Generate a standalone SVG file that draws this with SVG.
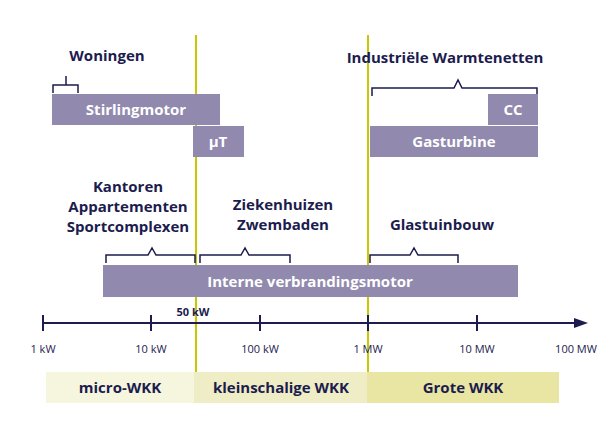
<svg xmlns="http://www.w3.org/2000/svg" width="616" height="427" viewBox="0 0 616 427">
<style>
.bar{fill:#9189ae}
.bt{font-family:"Open Sans","DejaVu Sans",sans-serif;font-weight:bold;font-size:15px;fill:#fff;text-anchor:middle}
.lt{font-family:"Open Sans","DejaVu Sans",sans-serif;font-weight:bold;font-size:15px;fill:#1c1c4e;text-anchor:middle}
.ax{font-family:"Open Sans","DejaVu Sans",sans-serif;font-size:11px;fill:#1c1c4e;text-anchor:middle}
.br{fill:none;stroke:#1c1c4e;stroke-width:1.5}
.yl{stroke:#c8c800;stroke-width:2}
</style>
<rect x="46" y="372" width="151" height="31" fill="#f6f5dd"/>
<rect x="194" y="372" width="174" height="31" fill="#efedc5"/>
<rect x="367" y="372" width="192" height="31" fill="#e8e6a2"/>
<text class="lt" x="120" y="393">micro-WKK</text>
<text class="lt" x="281" y="393">kleinschalige WKK</text>
<text class="lt" x="463" y="393">Grote WKK</text>
<g id="connectors">
<line class="yl" x1="196" y1="35" x2="196" y2="372"/>
<line class="yl" x1="368" y1="35" x2="368" y2="372"/>
<line x1="43" y1="323" x2="576" y2="323" stroke="#1c1c4e" stroke-width="2"/>
<polygon points="588,323 574,318 574,328" fill="#1c1c4e"/>
<g stroke="#1c1c4e" stroke-width="2">
<line x1="43" y1="315" x2="43" y2="331"/><line x1="151" y1="315" x2="151" y2="331"/>
<line x1="260" y1="315" x2="260" y2="331"/><line x1="368" y1="315" x2="368" y2="331"/>
<line x1="477" y1="315" x2="477" y2="331"/></g>
<path class="br" d="M53,93 V85 H66 V76 M66,85 H78 V93"/>
<path class="br" d="M372,96 V88 H454 L458,80 L462,88 H537 V96"/>
<path class="br" d="M106,263 V255 H148 L152,248 L156,255 H195 V263"/>
<path class="br" d="M200,263 V255 H241 L245,248 L249,255 H290 V263"/>
<path class="br" d="M370,263 V255 H410 L414,248 L418,255 H458 V263"/>
</g>
<text class="ax" x="43" y="353">1 kW</text>
<text class="ax" x="151" y="353">10 kW</text>
<text class="ax" x="260" y="353">100 kW</text>
<text class="ax" x="368" y="353">1 MW</text>
<text class="ax" x="477" y="353">10 MW</text>
<text class="ax" x="576" y="353">100 MW</text>
<text class="ax" x="193" y="316" font-weight="bold">50 kW</text>
<g id="woningen"><text class="lt" x="107" y="61">Woningen</text></g>
<g id="stirling"><rect class="bar" x="52" y="94" width="168" height="31"/><text class="bt" x="136" y="115">Stirlingmotor</text></g>
<g id="mut"><rect class="bar" x="193" y="126" width="51" height="31"/><text class="bt" x="218" y="147">µT</text></g>
<g id="industrie"><text class="lt" x="445" y="63">Industriële Warmtenetten</text></g>
<g id="cc"><rect class="bar" x="488" y="94" width="50" height="31"/><text class="bt" x="513" y="115">CC</text></g>
<g id="gasturbine"><rect class="bar" x="370" y="126" width="168" height="31"/><text class="bt" x="454" y="147">Gasturbine</text></g>
<g id="kantoren"><text class="lt" x="128" y="192">Kantoren</text><text class="lt" x="128" y="212">Appartementen</text><text class="lt" x="128" y="232">Sportcomplexen</text></g>
<g id="ziekenhuizen"><text class="lt" x="283" y="210">Ziekenhuizen</text><text class="lt" x="283" y="230">Zwembaden</text></g>
<g id="glastuinbouw"><text class="lt" x="442" y="230">Glastuinbouw</text></g>
<g id="interne"><rect class="bar" x="103" y="265" width="415" height="32"/><text class="bt" x="310" y="287">Interne verbrandingsmotor</text></g>
</svg>
